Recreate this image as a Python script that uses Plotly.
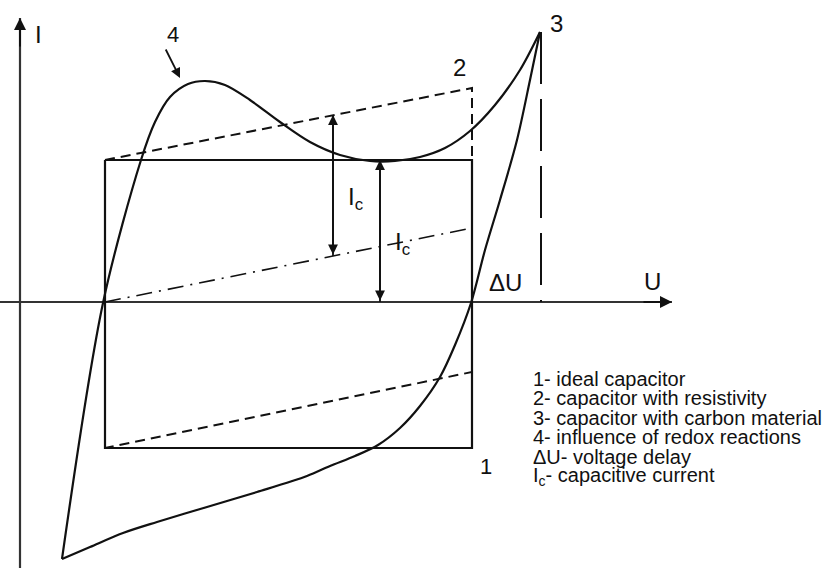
import plotly.graph_objects as go

# ---- data (U = voltage units to the right of the I axis, I = current units above the U axis) ----
# 1 - ideal capacitor (rectangle)
ideal_u = [85, 452, 452, 85, 85]
ideal_i = [142, 142, -146, -146, 142]

# 2 - capacitor with resistivity (dashed parallelogram)
resist_u = [85, 85, 452, 452, 85]
resist_i = [-146, 142, 214, -70, -146]

# dash-dot midline of the resistive capacitor
mid_u = [85, 452]
mid_i = [0, 74]

# 3/4 - carbon material loop with redox hump: upper (charging) branch
upper_u = [42, 83, 121, 135, 150, 168, 185, 205, 230, 260, 290, 320, 350, 375, 400, 425, 450, 475, 500, 520]
upper_i = [-257, -1, 142, 180, 205, 218, 221, 217, 202, 180, 160, 147, 141, 141, 145, 154, 171, 197, 232, 270]
# lower (discharging) branch
lower_u = [520, 510, 497, 480, 465, 451, 435, 420, 400, 380, 358, 335, 310, 287, 237, 187, 137, 103, 70, 42]
lower_i = [270, 222, 162, 102, 52, -1, -43, -75, -104, -126, -143, -154, -164, -174, -190, -205, -220, -231, -245, -257]

# voltage delay marker (vertical at the switching potential)
delay_u = [521, 521]
delay_i = [270, 0]

# capacitive current arrows
ic1_u, ic1_top, ic1_bot = 313, 187, 46
ic2_u, ic2_top, ic2_bot = 360, 142, 0

# axes extents
u_axis = [-20, 652]
i_axis = [-266, 284]

legend_lines = [
    "1- ideal capacitor",
    "2- capacitor with resistivity",
    "3- capacitor with carbon material",
    "4- influence of redox reactions",
    "ΔU- voltage delay",
    "I<sub>c</sub>- capacitive current",
]
legend_i = [-77, -96, -116, -135, -155, -174]

INK = "#111111"
FONT = "Liberation Sans, Arial, sans-serif"

fig = go.Figure()

def line(u, i, width=2, dash="solid", color=INK, shape="linear", smoothing=1.0):
    ln = dict(color=color, width=width, dash=dash, shape=shape)
    if shape == "spline":
        ln["smoothing"] = smoothing
    fig.add_trace(go.Scatter(x=u, y=i, mode="lines", hoverinfo="skip", line=ln))

# axes
line(u_axis, [0, 0], width=2, color="#333")
line([0, 0], i_axis, width=2.2, color="#333")

# figures
line(ideal_u, ideal_i, width=2.2)
line(resist_u, resist_i, width=2, dash="10px,6px")
line(mid_u, mid_i, width=1.6, dash="16px,7px,2px,7px")
line(upper_u, upper_i, width=2.2, shape="spline", smoothing=0.9)
line(lower_u, lower_i, width=2.2, shape="spline", smoothing=0.9)
line(delay_u, delay_i, width=2, dash="52px,15px")
line([ic1_u, ic1_u], [ic1_top, ic1_bot], width=1.8)
line([ic2_u, ic2_u], [ic2_top, ic2_bot], width=1.8)

ann = []
def arrow(x, y, ax, ay, side="end", size=1.0, width=1.8):
    ann.append(dict(x=x, y=y, ax=ax, ay=ay, xref="x", yref="y", axref="x", ayref="y",
                    text="", showarrow=True, arrowhead=2, arrowsize=size, arrowwidth=width,
                    arrowcolor=INK, arrowside=side))

# axis arrowheads
arrow(0, i_axis[1], 0, i_axis[1] - 30, size=1.2, width=2)
arrow(u_axis[1], 0, u_axis[1] - 30, 0, size=1.2, width=2)
# capacitive current double arrows
arrow(ic1_u, ic1_top, ic1_u, ic1_bot, side="end+start", size=1.1, width=1.8)
arrow(ic2_u, ic2_top, ic2_u, ic2_bot, side="end+start", size=1.1, width=1.8)
# pointer for curve 4
arrow(160, 224, 145, 254, size=1.1, width=1.8)

def label(x, y, text, size=24, anchor="center"):
    ann.append(dict(x=x, y=y, xref="x", yref="y", text=text, showarrow=False,
                    xanchor=anchor, yanchor="middle",
                    font=dict(family=FONT, size=size, color=INK)))

label(18, 268, "I", size=24)
label(632, 21, "U", size=24)
label(485, 20, "ΔU", size=24)
label(466, -164, "1", size=22)
label(439, 235, "2", size=24)
label(536, 279, "3", size=24)
label(153, 268, "4", size=22)
label(335, 104, "I<sub>c</sub>", size=24)
label(382, 59, "I<sub>c</sub>", size=24)

for txt, yy in zip(legend_lines, legend_i):
    label(511, yy, txt, size=20, anchor="left")

fig.update_layout(
    width=834, height=568,
    margin=dict(l=0, r=0, t=0, b=0),
    paper_bgcolor="white", plot_bgcolor="white",
    showlegend=False,
    xaxis=dict(range=[-20, 814], visible=False, fixedrange=True),
    yaxis=dict(range=[-266, 302], visible=False, fixedrange=True),
    annotations=ann,
)

fig.write_html("out.html")
